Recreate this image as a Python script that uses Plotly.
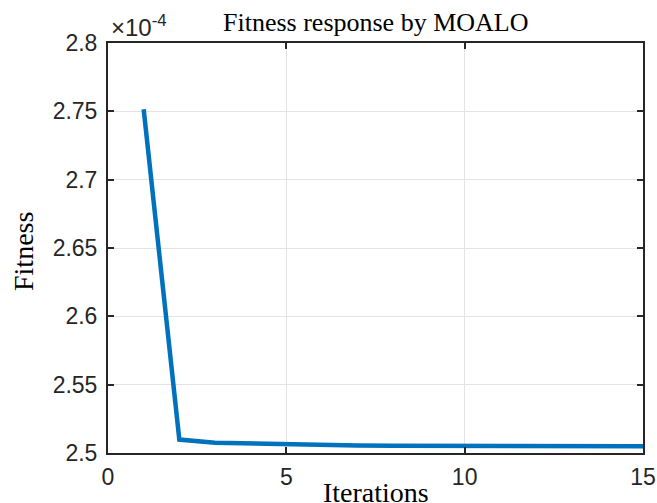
import plotly.graph_objects as go

iterations = list(range(1, 16))
fitness_e4 = [2.7515, 2.5098, 2.5075, 2.5068, 2.5062, 2.5058, 2.5055, 2.5053,
              2.5052, 2.5051, 2.5051, 2.5050, 2.5050, 2.5050, 2.5050]
x_ticks = [0, 5, 10, 15]
y_ticks = [2.5, 2.55, 2.6, 2.65, 2.7, 2.75, 2.8]
y_tick_labels = ["2.5", "2.55", "2.6", "2.65", "2.7", "2.75", "2.8"]

axis_col = "#262626"
grid_col = "#e3e3e3"
tick_font = dict(family="Liberation Sans, Arial", size=23, color=axis_col)
serif = "Liberation Serif, Times New Roman"

fig = go.Figure()
fig.add_trace(go.Scatter(x=iterations, y=fitness_e4, mode="lines",
                         line=dict(color="#0072BD", width=4.5),
                         showlegend=False, hoverinfo="skip"))

common = dict(showline=True, linecolor=axis_col, linewidth=2, mirror="ticks",
              ticks="inside", ticklen=6, tickwidth=1.5, tickcolor=axis_col,
              showgrid=True, gridcolor=grid_col, gridwidth=1,
              zeroline=False, tickfont=tick_font, automargin=False)

fig.update_xaxes(range=[0, 15], tickvals=x_ticks, ticklabelstandoff=2, **common)
fig.update_yaxes(range=[2.5, 2.8], tickvals=y_ticks, ticktext=y_tick_labels,
                 ticklabelstandoff=4, **common)

fig.add_annotation(text="Fitness response by MOALO", xref="paper", yref="paper",
                   x=0.5, y=1.0, yshift=21, xanchor="center", yanchor="middle",
                   showarrow=False, font=dict(family=serif, size=26, color="black"))
fig.add_annotation(text="×10<sup>-4</sup>", xref="paper", yref="paper",
                   x=0.0, y=1.0, yshift=17, xshift=1, xanchor="left", yanchor="middle",
                   showarrow=False, font=dict(family="Liberation Sans, Arial", size=24, color=axis_col))
fig.add_annotation(text="Fitness", xref="paper", yref="paper",
                   x=0.0, xshift=-85, y=0.5, yshift=-4, textangle=-90, xanchor="center", yanchor="middle",
                   showarrow=False, font=dict(family=serif, size=28, color="black"))
fig.add_annotation(text="Iterations", xref="paper", yref="paper",
                   x=0.5, y=0.0, yshift=-39, xanchor="center", yanchor="middle",
                   showarrow=False, font=dict(family=serif, size=28, color="black"))

fig.update_layout(width=657, height=503, margin=dict(l=108, r=14, t=43, b=50),
                  paper_bgcolor="white", plot_bgcolor="white")

fig.write_html("out.html", config={"displayModeBar": False},
               post_script="document.body.style.margin='0';document.body.style.overflow='hidden';")
